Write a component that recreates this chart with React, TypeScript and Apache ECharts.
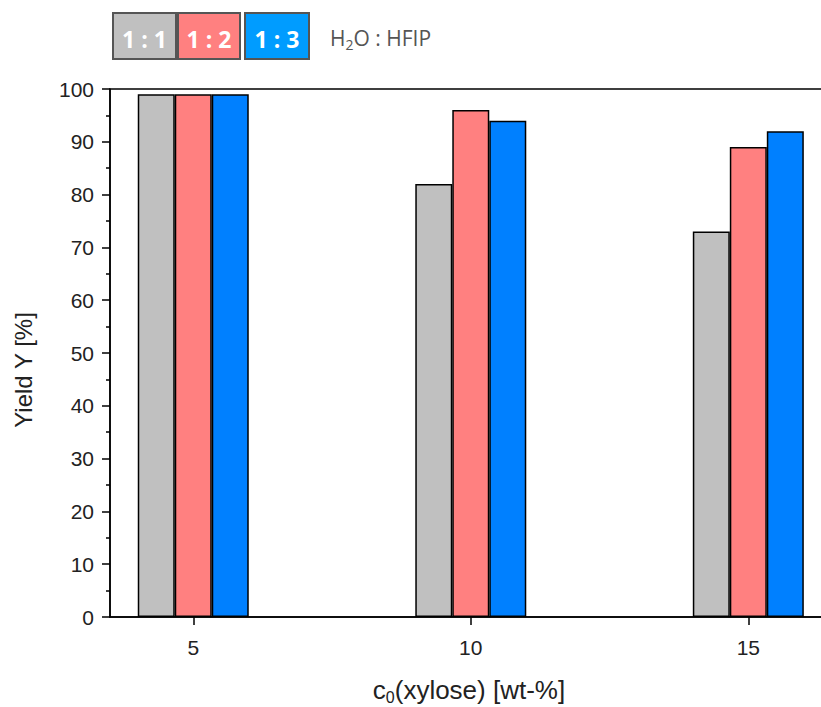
import React, { useEffect, useRef } from "react";
import * as echarts from "echarts";

const concentrations = [5, 10, 15];
const ratio11 = [99, 82, 73];
const ratio12 = [99, 96, 89];
const ratio13 = [99, 94, 92];
const seriesNames = ["1 : 1", "1 : 2", "1 : 3"];
const barColors = ["#c0c0c0", "#ff8080", "#0080ff"];
const legendColors = ["#c0c0c0", "#ff8080", "#009cff"];
const yTicks = [0, 10, 20, 30, 40, 50, 60, 70, 80, 90, 100];

const FONT = "Liberation Sans, Arial, sans-serif";
const LFONT = "Open Sans, Noto Sans, sans-serif";

export default function App() {
  const ref = useRef<HTMLDivElement>(null);
  useEffect(() => {
    if (!ref.current) return;
    const chart = echarts.init(ref.current, undefined, { renderer: "svg" });
    const all = [ratio11, ratio12, ratio13];
    const legendBoxes = [
      { x: 113, w: 63 },
      { x: 178, w: 62 },
      { x: 245, w: 64 },
    ];
    const graphics: any[] = [];
    legendBoxes.forEach((b, i) => {
      graphics.push({
        type: "rect",
        shape: { x: b.x, y: 13, width: b.w, height: 46 },
        style: { fill: legendColors[i], stroke: "#555", lineWidth: 2 },
      });
      graphics.push({
        type: "text",
        x: b.x + b.w / 2,
        y: 39,
        style: {
          text: seriesNames[i],
          fill: "#fff",
          font: `bold 23px ${LFONT}`,
          align: "center",
          verticalAlign: "middle",
        },
      });
    });
    graphics.push({
      type: "text",
      x: 330,
      y: 38,
      style: {
        text: "{n|H}{s|2}{n|O : HFIP}",
        align: "left",
        verticalAlign: "middle",
        rich: {
          n: { fontSize: 21, fontFamily: LFONT, fill: "#555", lineHeight: 26, verticalAlign: "middle" },
          s: { fontSize: 14, fontFamily: LFONT, fill: "#555", lineHeight: 12, verticalAlign: "bottom" },
        },
      },
    });
    graphics.push({
      type: "text",
      x: 23,
      y: 370,
      rotation: Math.PI / 2,
      style: {
        text: "Yield Y [%]",
        font: `24px ${FONT}`,
        fill: "#222",
        align: "center",
        verticalAlign: "middle",
      },
    });
    graphics.push({
      type: "text",
      x: 469,
      y: 690,
      style: {
        text: "{n|c}{s|0}{n|(xylose) [wt-%]}",
        align: "center",
        verticalAlign: "middle",
        rich: {
          n: { fontSize: 26, fontFamily: FONT, fill: "#222", lineHeight: 30, verticalAlign: "middle" },
          s: { fontSize: 16, fontFamily: FONT, fill: "#222", lineHeight: 12, verticalAlign: "bottom" },
        },
      },
    });

    chart.setOption({
      animation: false,
      grid: {
        left: 110,
        top: 89,
        bottom: 90,
        right: 0,
        show: true,
        borderColor: "#000",
        borderWidth: 1.5,
        backgroundColor: "transparent",
      },
      xAxis: {
        type: "value",
        min: 3.5,
        max: 16.67,
        splitLine: { show: false },
        axisLine: { show: true, lineStyle: { color: "#000", width: 1.5 } },
        axisTick: { show: true, inside: false, length: 8, customValues: concentrations, lineStyle: { color: "#000", width: 1.5 } },
        axisLabel: { customValues: concentrations, margin: 20, fontSize: 21, fontFamily: FONT, color: "#222" },
      },
      yAxis: {
        type: "value",
        min: 0,
        max: 100,
        interval: 10,
        splitLine: { show: false },
        axisLine: { show: true, lineStyle: { color: "#000", width: 1.5 } },
        axisTick: { show: true, inside: false, length: 8, lineStyle: { color: "#000", width: 1.5 } },
        minorTick: { show: true, splitNumber: 2, length: 4, lineStyle: { color: "#000", width: 1.5 } },
        axisLabel: {
          margin: 16,
          fontSize: 21,
          fontFamily: FONT,
          color: "#222",
          formatter: (v: number) => (yTicks.includes(v) ? String(v) : ""),
        },
      },
      series: all.map((vals, i) => ({
        type: "bar",
        name: seriesNames[i],
        data: concentrations.map((c, j) => [c, vals[j]]),
        barWidth: 37,
        barGap: "0%",
        itemStyle: { color: barColors[i], borderColor: "#000", borderWidth: 1.5 },
      })),
      graphic: graphics,
    });
    return () => chart.dispose();
  }, []);
  return (
    <div
      ref={ref}
      style={{ position: "fixed", left: 0, top: 0, width: 841, height: 707, background: "#fff" }}
    />
  );
}
